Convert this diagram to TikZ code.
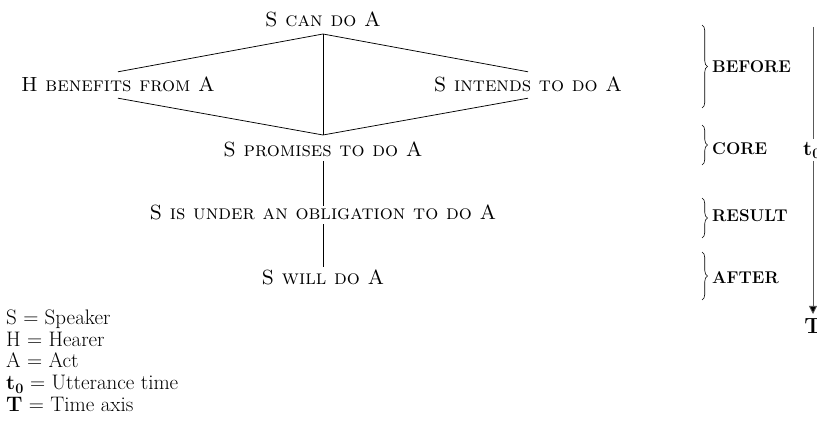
\documentclass[tikz,border=0pt]{standalone}
\usetikzlibrary{decorations.pathreplacing,arrows.meta}
\begin{document}
\begin{tikzpicture}[x=1pt,y=-1pt,
  every node/.style={inner sep=0pt},
  event/.style={font=\fontsize{20.5}{24}\selectfont\scshape, anchor=base,
    text height=14pt, text depth=0pt, inner ysep=4pt},
  side/.style={font=\fontsize{20.5}{24}\selectfont\scshape, anchor=base,
    text height=14pt, text depth=0pt, inner ysep=6pt},
  phase/.style={font=\fontsize{17}{20}\selectfont\bfseries, anchor=west},
  legend/.style={font=\fontsize{21}{22}\selectfont, anchor=base west},
  link/.style={draw=black, line width=0.75pt},
  span/.style={draw=black, line width=0.6pt, decorate,
    decoration={brace, amplitude=5.5pt}},
  axis/.style={draw=black!65, line width=0.8pt}]
\useasboundingbox (0,0) rectangle (817,443);
\clip (0,0) rectangle (817,443);

% preconditions of the promise
\node[event] (can) at (323,27) {S can do A};
\node[side] (ben) at (118,92) {H benefits from A};
\node[side] (int) at (528,92) {S intends to do A};
\coordinate (tv) at (323,34);
\coordinate (bv) at (323,135);

% the promise and its consequences
\node[event] (pro) at (323,157) {S promises to do A};
\node[event] (obl) at (323,220) {S is under an obligation to do A};
\node[event] (will) at (323,285) {S will do A};

\draw[link] (ben.north) -- (tv) -- (int.north);
\draw[link] (ben.south) -- (bv) -- (int.south);
\draw[link] (tv) -- (bv);
\draw[link] (pro.south) -- ([yshift=-4pt]obl.north);
\draw[link] (obl.south) -- (will.north);

% phases
\draw[span] (702,25) -- (702,108);
\draw[span] (702,125) -- (702,165);
\draw[span] (702,198) -- (702,238);
\draw[span] (702,252) -- (702,300);
\node[phase] (before) at (712,67) {BEFORE};
\node[phase] (core) at (712,149) {CORE};
\node[phase] (result) at (712,216) {RESULT};
\node[phase] (after) at (712,278) {AFTER};

% time axis
\coordinate (axtop) at (813,27);
\node[font=\fontsize{22}{24}\selectfont, anchor=west, inner ysep=3pt] (t0) at (803,150) {$\mathbf{t}_{\mathbf{0}}$};
\node[font=\fontsize{22}{24}\selectfont\bfseries, anchor=north, inner ysep=4pt] (T) at (813,314) {T};
\draw[axis] (axtop) -- (axtop |- t0.north);
\draw[axis, -{Triangle[length=8pt,width=8pt,fill=black]}] (axtop |- t0.south) -- (T.north);

% abbreviations
\node[legend] (l1) at (6,325) {S = Speaker};
\node[legend] (l2) at (6,347) {H = Hearer};
\node[legend] (l3) at (6,368) {A = Act};
\node[legend] (l4) at (6,390) {$\mathbf{t}_{\mathbf{0}}$ = Utterance time};
\node[legend] (l5) at (6,412) {\textbf{T} = Time axis};
\end{tikzpicture}
\end{document}
